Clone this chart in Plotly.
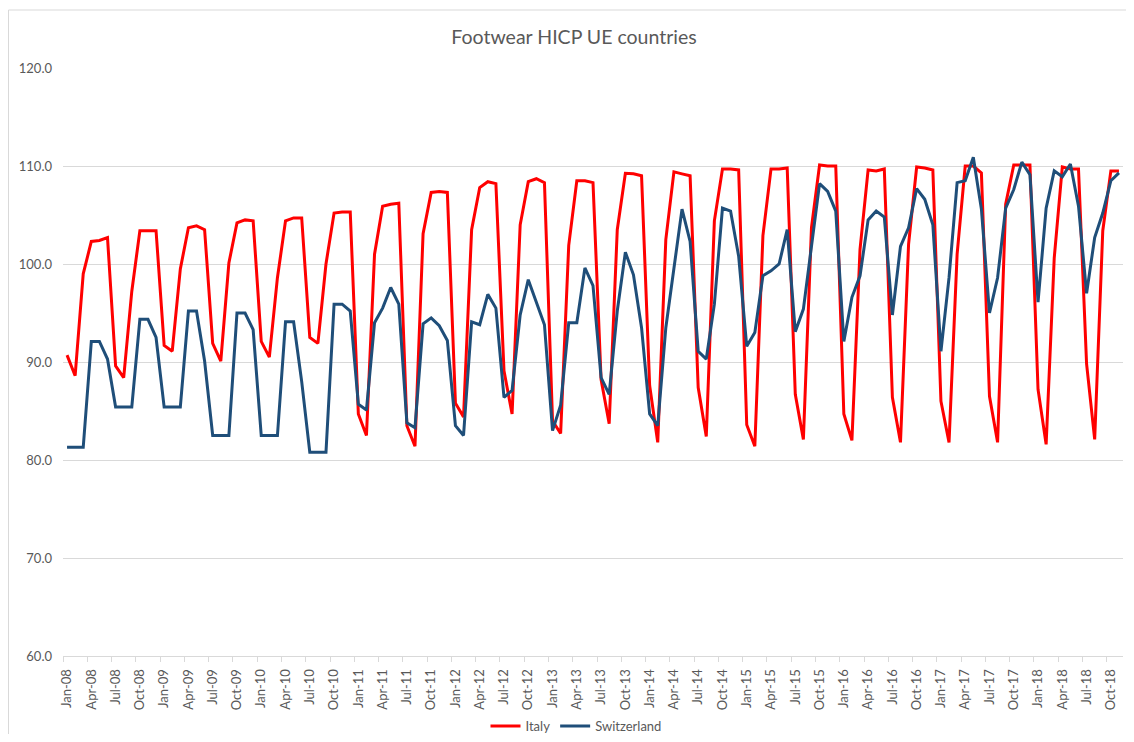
import plotly.graph_objects as go

month_names = ["Jan", "Feb", "Mar", "Apr", "May", "Jun", "Jul", "Aug", "Sep", "Oct", "Nov", "Dec"]
years = list(range(2008, 2019))
months = [f"{m}-{str(y)[2:]}" for y in years for m in month_names][:131]  # Jan-08 .. Nov-18

italy = [
    90.7, 88.6, 99.0, 102.3, 102.4, 102.7, 89.6, 88.4, 97.2, 103.4, 103.4, 103.4,
    91.7, 91.1, 99.5, 103.7, 103.9, 103.5, 91.9, 90.1, 100.1, 104.2, 104.5, 104.4,
    92.1, 90.5, 98.6, 104.4, 104.7, 104.7, 92.5, 91.9, 100.0, 105.2, 105.3, 105.3,
    84.7, 82.5, 101.0, 105.9, 106.1, 106.2, 83.5, 81.4, 103.1, 107.3, 107.4, 107.3,
    85.8, 84.4, 103.5, 107.8, 108.4, 108.2, 89.1, 84.7, 104.0, 108.4, 108.7, 108.3,
    84.0, 82.7, 101.9, 108.5, 108.5, 108.3, 88.2, 83.7, 103.5, 109.25, 109.2, 109.0,
    87.6, 81.8, 102.5, 109.4, 109.2, 109.0, 87.4, 82.4, 104.4, 109.7, 109.7, 109.6,
    83.6, 81.4, 102.9, 109.7, 109.7, 109.8, 86.7, 82.1, 103.7, 110.1, 110.0, 110.0,
    84.7, 82.0, 101.5, 109.6, 109.5, 109.7, 86.4, 81.8, 102.0, 109.9, 109.8, 109.6,
    86.0, 81.8, 101.0, 110.0, 110.0, 109.3, 86.5, 81.8, 106.1, 110.1, 110.1, 110.1,
    87.2, 81.6, 100.6, 109.9, 109.7, 109.7, 89.8, 82.1, 103.4, 109.5, 109.5,
]

switzerland = [
    81.3, 81.3, 81.3, 92.1, 92.1, 90.3, 85.4, 85.4, 85.4, 94.35, 94.35, 92.5,
    85.4, 85.4, 85.4, 95.2, 95.2, 90.1, 82.5, 82.5, 82.5, 95.0, 95.0, 93.3,
    82.5, 82.5, 82.5, 94.1, 94.1, 88.0, 80.8, 80.8, 80.8, 95.9, 95.9, 95.2,
    85.7, 85.1, 94.0, 95.5, 97.6, 95.9, 83.8, 83.3, 93.9, 94.5, 93.7, 92.2,
    83.5, 82.5, 94.1, 93.8, 96.9, 95.5, 86.4, 87.1, 94.8, 98.4, 96.2, 93.8,
    83.0, 85.6, 94.0, 94.0, 99.6, 97.8, 88.4, 86.7, 95.2, 101.2, 98.9, 93.5,
    84.7, 83.5, 93.5, 99.3, 105.6, 102.3, 91.1, 90.3, 95.9, 105.7, 105.4, 100.8,
    91.6, 93.0, 98.8, 99.3, 100.0, 103.5, 93.1, 95.4, 102.0, 108.2, 107.4, 105.4,
    92.1, 96.6, 98.8, 104.5, 105.4, 104.8, 94.8, 101.8, 103.7, 107.7, 106.6, 104.0,
    91.1, 98.6, 108.3, 108.5, 110.9, 105.6, 95.0, 98.6, 105.7, 107.6, 110.4, 109.1,
    96.1, 105.7, 109.5, 108.9, 110.2, 105.9, 97.0, 102.7, 105.2, 108.5, 109.3,
]

y_ticks = [60, 70, 80, 90, 100, 110, 120]
y_ticktext = [f"{v:.1f}" for v in y_ticks]

x_idx = list(range(len(months)))
x_tickvals = x_idx[::3]
x_ticktext = months[::3]

FONT = "Lato"
GRAY = "#595959"
GRID = "#D9D9D9"

# page body has an 8px margin: figure origin sits at (8, 8) on screen
W, H = 1118, 726
L, T = 55, 60
R = W - 1115
B = H - 648
PW = W - L - R
PH = H - T - B

fig = go.Figure()
fig.add_trace(go.Scatter(x=x_idx, y=italy, name="Italy", mode="lines",
                         line=dict(color="#FF0000", width=3)))
fig.add_trace(go.Scatter(x=x_idx, y=switzerland, name="Switzerland", mode="lines",
                         line=dict(color="#1F4E79", width=3)))

fig.update_layout(
    width=W, height=H,
    margin=dict(l=L, r=R, t=T, b=B),
    paper_bgcolor="white", plot_bgcolor="white",
    font=dict(family=FONT, color=GRAY, size=13),
    title=dict(text="Footwear HICP UE countries", x=566 / W, xref="container",
               xanchor="center", y=1 - 29 / H, yref="container", yanchor="middle",
               font=dict(family=FONT, size=19.5, color=GRAY)),
    legend=dict(orientation="h", x=568 / W, xref="container", xanchor="center",
                y=1 - 718 / H, yref="container", yanchor="middle",
                font=dict(family=FONT, size=13, color=GRAY),
                itemwidth=30, tracegroupgap=0),
    showlegend=True,
    shapes=[dict(type="rect", xref="paper", yref="paper",
                 x0=(0.5 - L) / PW, x1=1.1, y0=-0.3, y1=(PH + T - 2) / PH,
                 line=dict(color=GRID, width=1), fillcolor="rgba(0,0,0,0)", layer="below")],
)

fig.update_xaxes(
    automargin=False,
    range=[-0.5, len(months) - 0.5],
    tickmode="array", tickvals=x_tickvals, ticktext=x_ticktext,
    tickangle=-90, ticks="", ticklabelstandoff=7,
    tickfont=dict(family=FONT, size=13, color=GRAY),
    showgrid=False, zeroline=False,
    showline=True, linecolor=GRID, linewidth=1,
    minor=dict(tickmode="linear", tick0=-0.5, dtick=3, ticks="outside",
               ticklen=5, tickcolor=GRID, tickwidth=1, showgrid=False),
)
fig.update_yaxes(
    automargin=False,
    range=[60, 120], tickmode="array", tickvals=y_ticks, ticktext=y_ticktext,
    showgrid=True, gridcolor=GRID, gridwidth=1, zeroline=False, showline=False,
    ticks="", ticklabelstandoff=10,
    tickfont=dict(family=FONT, size=13, color=GRAY),
)

fig.write_html("out.html")
